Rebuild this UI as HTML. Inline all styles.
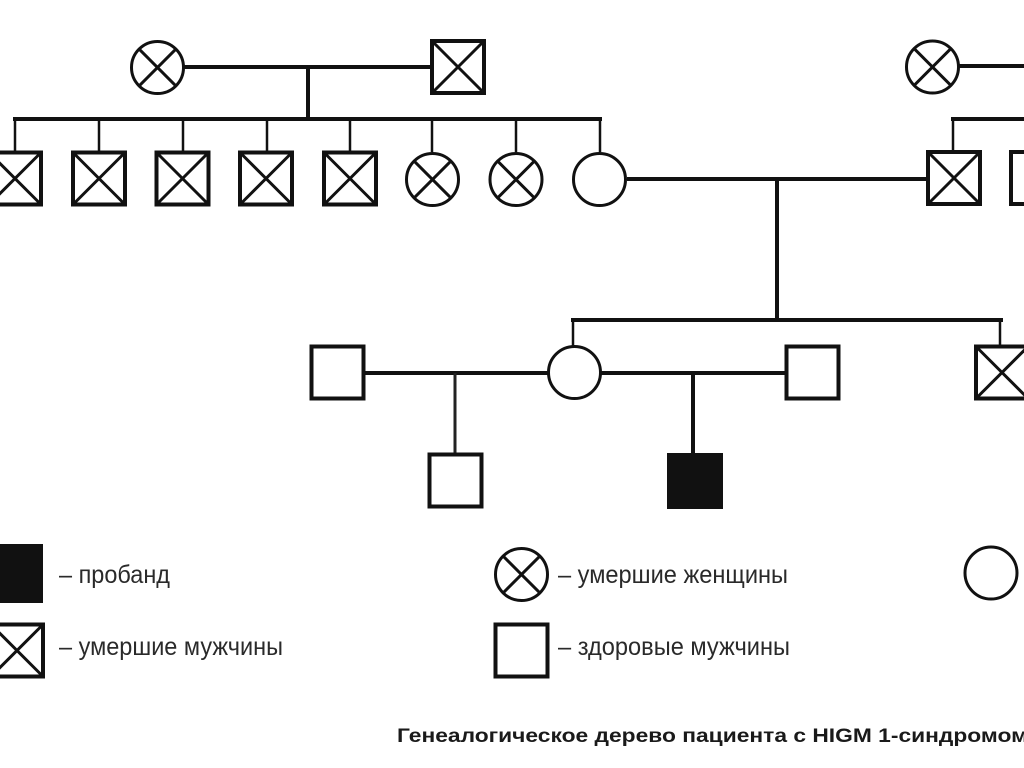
<!DOCTYPE html>
<html>
<head>
<meta charset="utf-8">
<style>
html,body{margin:0;padding:0;background:#fff;}
svg{display:block;}
</style>
</head>
<body>
<svg width="1024" height="768" viewBox="0 0 1024 768" xmlns="http://www.w3.org/2000/svg">
<defs>
  <g id="dsq">
    <rect x="-26" y="-26" width="52" height="52" fill="#fff" stroke="#111" stroke-width="4"/>
    <line x1="-24" y1="-24" x2="24" y2="24" stroke="#111" stroke-width="3"/>
    <line x1="24" y1="-24" x2="-24" y2="24" stroke="#111" stroke-width="3"/>
  </g>
  <g id="hsq">
    <rect x="-26" y="-26" width="52" height="52" fill="#fff" stroke="#111" stroke-width="4"/>
  </g>
  <g id="dci">
    <circle cx="0" cy="0" r="26" fill="#fff" stroke="#111" stroke-width="3"/>
    <line x1="-18.4" y1="-18.4" x2="18.4" y2="18.4" stroke="#111" stroke-width="3"/>
    <line x1="18.4" y1="-18.4" x2="-18.4" y2="18.4" stroke="#111" stroke-width="3"/>
  </g>
  <g id="hci">
    <circle cx="0" cy="0" r="26" fill="#fff" stroke="#111" stroke-width="3"/>
  </g>
</defs>

<!-- Generation I left -->
<line x1="184" y1="67" x2="432" y2="67" stroke="#111" stroke-width="4"/>
<line x1="308" y1="67" x2="308" y2="121" stroke="#111" stroke-width="4"/>
<line x1="13" y1="119" x2="602" y2="119" stroke="#111" stroke-width="4"/>
<g stroke="#111" stroke-width="2.5">
  <line x1="15" y1="119" x2="15" y2="152"/>
  <line x1="99" y1="119" x2="99" y2="152"/>
  <line x1="183" y1="119" x2="183" y2="152"/>
  <line x1="267" y1="119" x2="267" y2="152"/>
  <line x1="350" y1="119" x2="350" y2="152"/>
  <line x1="432" y1="119" x2="432" y2="152"/>
  <line x1="516" y1="119" x2="516" y2="152"/>
  <line x1="600" y1="119" x2="600" y2="152"/>
</g>
<use href="#dci" x="157.5" y="67.5"/>
<use href="#dsq" x="458" y="67"/>

<!-- Generation II -->
<use href="#dsq" x="15" y="178.5"/>
<use href="#dsq" x="99" y="178.5"/>
<use href="#dsq" x="182.5" y="178.5"/>
<use href="#dsq" x="266" y="178.5"/>
<use href="#dsq" x="350" y="178.5"/>
<use href="#dci" x="432.5" y="179.5"/>
<use href="#dci" x="516" y="179.5"/>

<line x1="627" y1="179" x2="926" y2="179" stroke="#111" stroke-width="4"/>
<line x1="777" y1="179" x2="777" y2="322" stroke="#111" stroke-width="4"/>
<use href="#hci" x="599.5" y="179.5"/>

<!-- Right top family -->
<line x1="958" y1="66" x2="1024" y2="66" stroke="#111" stroke-width="4"/>
<use href="#dci" x="932.5" y="67"/>
<line x1="951" y1="119" x2="1024" y2="119" stroke="#111" stroke-width="4"/>
<line x1="953" y1="119" x2="953" y2="152" stroke="#111" stroke-width="2.5"/>
<use href="#dsq" x="954" y="178"/>
<use href="#hsq" x="1037" y="178"/>

<!-- Generation III -->
<line x1="571" y1="320" x2="1003" y2="320" stroke="#111" stroke-width="4"/>
<line x1="573" y1="320" x2="573" y2="347" stroke="#111" stroke-width="2.5"/>
<line x1="1000" y1="320" x2="1000" y2="347" stroke="#111" stroke-width="2.5"/>

<line x1="365" y1="373" x2="549" y2="373" stroke="#111" stroke-width="4"/>
<line x1="600" y1="373" x2="787" y2="373" stroke="#111" stroke-width="4"/>
<line x1="455" y1="373" x2="455" y2="455" stroke="#222" stroke-width="3"/>
<line x1="693" y1="373" x2="693" y2="455" stroke="#111" stroke-width="4"/>

<use href="#hsq" x="337.5" y="372.5"/>
<use href="#hci" x="574.5" y="372.5"/>
<use href="#hsq" x="812.5" y="372.5"/>
<use href="#dsq" x="1002" y="372.5"/>

<use href="#hsq" x="455.5" y="480.5"/>
<rect x="667" y="453" width="56" height="56" fill="#111"/>

<!-- Legend -->
<rect x="-15" y="544" width="58" height="59" fill="#111"/>
<use href="#dsq" x="17" y="650.5"/>
<use href="#dci" x="521.5" y="574.5"/>
<use href="#hsq" x="521.5" y="650.5"/>
<use href="#hci" x="991" y="573"/>

<g font-family="Liberation Sans, Arial, sans-serif" fill="#2a2a2a" font-size="25">
  <text x="59" y="583" textLength="111" lengthAdjust="spacingAndGlyphs">– пробанд</text>
  <text x="59" y="655" textLength="224" lengthAdjust="spacingAndGlyphs">– умершие мужчины</text>
  <text x="558" y="583" textLength="230" lengthAdjust="spacingAndGlyphs">– умершие женщины</text>
  <text x="558" y="655" textLength="232" lengthAdjust="spacingAndGlyphs">– здоровые мужчины</text>
</g>

<text x="397" y="742" font-family="Liberation Sans, Arial, sans-serif" font-weight="bold" font-size="19" fill="#1a1a1a" textLength="631" lengthAdjust="spacingAndGlyphs">Генеалогическое дерево пациента с HIGM 1-синдромом</text>
</svg>
</body>
</html>
